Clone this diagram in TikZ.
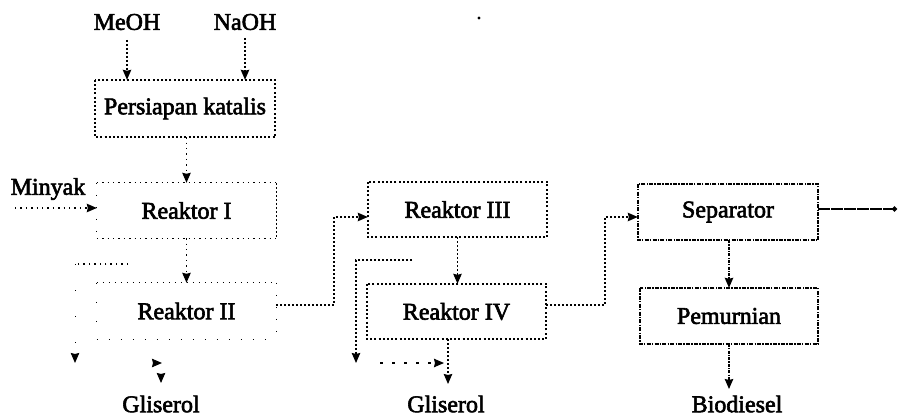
\documentclass[tikz,border=0pt]{standalone}
\usepackage{fontspec}
\setmainfont[FakeBold=2.5]{Liberation Serif}
\usetikzlibrary{arrows.meta}
\tikzset{
  x=1pt,y=-1pt,
  lbl/.style={font=\fontsize{24}{26}\selectfont,inner sep=0pt,anchor=center},
  boxn/.style={minimum width=#1,minimum height=56pt,inner sep=0pt},
  strong/.style={line width=1.3pt,dash pattern=on 3pt off 1.2pt on 1.2pt off 1.2pt},
  medium/.style={line width=1.2pt,dash pattern=on 1.8pt off 2.2pt},
  strongbox/.style={line width=2pt,dash pattern=on 4pt off 1.2pt on 1.5pt off 1.2pt},
  mediumbox/.style={line width=1.7pt,dash pattern=on 2pt off 2.2pt},
  faint/.style={line width=1.2pt,dash pattern=on 1.4pt off 4pt},
  vfaint/.style={line width=1pt,dash pattern=on 1pt off 11pt},
  conn/.style={-{Stealth[length=10pt,width=8.5pt,inset=1pt]}},
}
\begin{document}
\begin{tikzpicture}
\useasboundingbox (0,0) rectangle (898,417);
% labels
\node[lbl] (meoh) at (127,22) {MeOH};
\node[lbl] (naoh) at (245,22) {NaOH};
\node[lbl] (minyak) at (48,189) {Minyak};
\node[lbl] (gl1) at (161,404) {Gliserol};
\node[lbl] (gl2) at (446,404) {Gliserol};
\node[lbl] (bio) at (737,404) {Biodiesel};
% boxes
\node[lbl,boxn=180pt,minimum height=57pt] (pk) at (185,108.5) {Persiapan katalis};
\node[lbl,boxn=179pt,minimum height=55pt] (r1) at (186.5,210.5) {Reaktor I};
\node[lbl,boxn=179pt] (r2) at (186.5,311) {Reaktor II};
\node[lbl,boxn=179pt,minimum height=55pt] (r3) at (457.5,209.5) {Reaktor III};
\node[lbl,boxn=179pt,minimum height=55pt] (r4) at (456.5,311.5) {Reaktor IV};
\node[lbl,boxn=180pt] (sep) at (728,212) {Separator};
\node[lbl,boxn=178pt] (pem) at (729,316) {Pemurnian};
\draw[mediumbox] (pk.north west) rectangle (pk.south east);
\draw[faint] (r1.north west) -- (r1.north east);
\draw[faint] (r1.south west) -- (r1.south east);
\draw[medium] (r1.north east) -- (r1.south east);
\draw[vfaint] (r1.north west) -- (r1.south west);
\draw[vfaint,dash pattern=on 1pt off 5pt] (r2.north west) -- (r2.north east);
\draw[vfaint] (r2.north east) -- (r2.south east);
\draw[vfaint] (r2.south west) -- (r2.south east);
\draw[vfaint,dash pattern=on 1pt off 18pt] (r2.north west) -- (r2.south west);
\draw[mediumbox] (r3.north west) rectangle (r3.south east);
\draw[mediumbox] (r4.north west) rectangle (r4.south east);
\draw[strongbox] (sep.north west) rectangle (sep.south east);
\draw[strongbox] (pem.north west) rectangle (pem.south east);
% coordinates
\coordinate (mt) at (127,40);
\coordinate (nt) at (245,38);
\coordinate (mk) at (15,208);
\coordinate (c1) at (334,305);
\coordinate (c2) at (334,217);
\coordinate (c3) at (605,305);
\coordinate (c4) at (605,217);
\coordinate (e1) at (897,209);
\coordinate (d1) at (412,260);
\coordinate (d2) at (356,260);
\coordinate (d3) at (356,363);
\coordinate (d4) at (380,363);
\coordinate (d5) at (444,363);
\coordinate (g2a) at (448,339);
\coordinate (g2b) at (448,384);
\coordinate (f1) at (128,264);
\coordinate (f2) at (75,264);
\coordinate (f3) at (75,363);
\coordinate (f4) at (106,363);
\coordinate (f5) at (162,363);
\coordinate (g1a) at (161,339);
\coordinate (g1b) at (161,383);
\coordinate (biot) at (729,389);
\coordinate (bios) at (729,344);
% connectors
\draw[medium,conn] (mt) -- (mt |- pk.north);
\draw[medium,conn] (nt) -- (nt |- pk.north);
\draw[faint,conn] (pk.south) ++(1.5,0) -- (r1.north);
\draw[faint,conn] (r1.south) -- (r2.north);
\draw[faint,conn] (mk) -- (mk -| r1.west);
\draw[medium,conn] (c1 -| r2.east) -- (c1) -- (c2) -- (c2 -| r3.west);
\draw[medium,conn] (c3 -| r4.east) -- (c3) -- (c4) -- (c4 -| sep.west);
\draw[line width=1.6pt,dash pattern=on 12pt off 1pt,-{Circle[length=5pt]}] (e1 -| sep.east) -- (e1);
\draw[strong,conn] (sep.south) ++(1,0) -- (pem.north);
\draw[strong,conn] (bios) -- (biot);
\draw[medium,conn] (r3.south) -- (r3.south |- r4.north);
\draw[medium,conn] (g2a) -- (g2b);
\draw[medium,conn] (d1) -- (d2) -- (d3);
\draw[faint,dash pattern=on 3pt off 9pt,conn] (d4) -- (d5);
\draw[faint] (f1) -- (f2);
\draw[vfaint,dash pattern=on 1pt off 25pt,conn] (f2) -- (f3);
\draw[vfaint,dash pattern=on 0pt off 60pt,conn] (f4) -- (f5);
\draw[vfaint,dash pattern=on 0pt off 50pt,conn] (g1a) -- (g1b);
\fill (479,18) circle (1.6pt);
\end{tikzpicture}
\end{document}
